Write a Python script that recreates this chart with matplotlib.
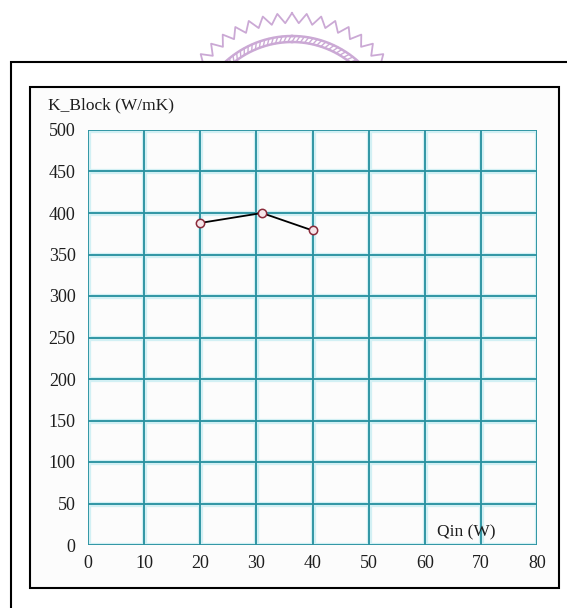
import numpy as np
import matplotlib
matplotlib.use("Agg")
import matplotlib.pyplot as plt
from matplotlib.patches import Rectangle

# Data
qin = [20, 31, 40]
k_block = [388, 400, 379]
x_ticks = [0, 10, 20, 30, 40, 50, 60, 70, 80]
y_ticks = [0, 50, 100, 150, 200, 250, 300, 350, 400, 450, 500]
y_title = "K_Block (W/mK)"
x_title = "Qin (W)"

W, H = 567, 608
fig = plt.figure(figsize=(W / 100, H / 100), dpi=100)
fig.patch.set_facecolor("white")

# Decoration layer in pixel coordinates
deco = fig.add_axes([0, 0, 1, 1])
deco.set_xlim(0, W)
deco.set_ylim(H, 0)
deco.axis("off")

# Watermark seal (partially visible)
lav = "#cba9d5"
cx, cy = 292, 135
n_teeth = 52
angs = np.linspace(0, 2 * np.pi, 2 * n_teeth + 1)
rad = np.where(np.arange(len(angs)) % 2 == 0, 122, 112)
zx = cx + rad * np.sin(angs)
zy = cy - rad * np.cos(angs)
deco.plot(zx, zy, color=lav, lw=1.3, zorder=1)
t = np.linspace(0, 2 * np.pi, 400)
for r in (99, 93):
    deco.plot(cx + r * np.sin(t), cy - r * np.cos(t), color=lav, lw=1.8, zorder=1)
for a in np.linspace(0, 2 * np.pi, 140, endpoint=False):
    deco.plot([cx + 93 * np.sin(a), cx + 99 * np.sin(a + 0.035)],
              [cy - 93 * np.cos(a), cy - 99 * np.cos(a + 0.035)],
              color=lav, lw=1.0, zorder=1)

# Outer frame (extends past the image)
deco.add_patch(Rectangle((11, 62), 700, 700, facecolor="white",
                         edgecolor="black", lw=1.5, zorder=2))
# Inner box
deco.add_patch(Rectangle((30, 87), 529, 501, facecolor="#fcfcfc",
                         edgecolor="black", lw=1.5, zorder=3))

# Plot area
left, right, top, bottom = 88, 537, 130, 545
ax = fig.add_axes([left / W, 1 - bottom / H, (right - left) / W, (bottom - top) / H])
ax.set_facecolor("none")
ax.set_zorder(5)
ax.set_xlim(0, 80)
ax.set_ylim(0, 500)
for s in ax.spines.values():
    s.set_visible(False)

halo = "#d2f0f4"
gcol = "#2b93a1"
for xv in x_ticks:
    ax.axvline(xv, color=halo, lw=3.8, zorder=1)
for yv in y_ticks:
    ax.axhline(yv, color=halo, lw=3.8, zorder=1)
for xv in x_ticks:
    ax.axvline(xv, color=gcol, lw=1.35, zorder=2)
for yv in y_ticks:
    ax.axhline(yv, color=gcol, lw=1.35, zorder=2)

ax.plot(qin, k_block, color="black", lw=1.3, zorder=4)
ax.plot(qin, k_block, linestyle="none", marker="o", ms=6, mfc="#f6e6ea",
        mec="#8a2a3a", mew=1.1, zorder=5)

font = "Liberation Serif"
ax.set_xticks(x_ticks)
ax.set_yticks(y_ticks)
ax.set_xticklabels([str(v) for v in x_ticks], fontfamily=font, fontsize=13)
ax.set_yticklabels([str(v) for v in y_ticks], fontfamily=font, fontsize=13)
ax.tick_params(axis="both", length=0, colors="#1e1e1e")
ax.tick_params(axis="x", pad=7)
ax.tick_params(axis="y", pad=9)

deco.text(48, 105, y_title, fontfamily=font, fontsize=12.5, color="#1e1e1e",
          ha="left", va="center", zorder=6)
ax.text(466, 532, x_title, transform=deco.transData, fontfamily=font,
        fontsize=12.5, color="#1e1e1e", ha="center", va="center", zorder=6)

fig.savefig("out.png", dpi=100)
